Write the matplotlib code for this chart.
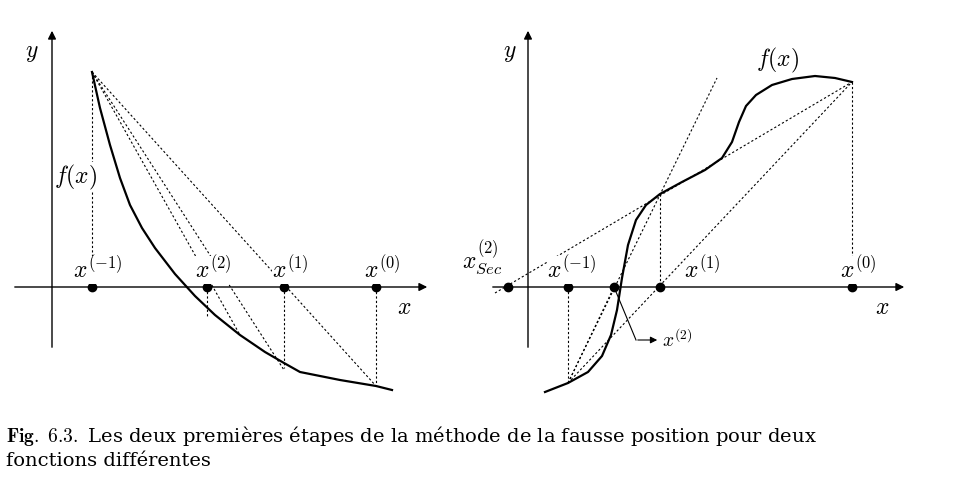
import matplotlib.pyplot as plt

plt.rcParams['mathtext.fontset'] = 'cm'

# pixel-like coordinates (y grows downward)
left_curve_x = [92, 100, 110, 120, 130, 142, 155, 175, 195, 215, 240, 265, 284, 300, 340, 376, 392]
left_curve_y = [72, 108, 145, 178, 205, 228, 248, 274, 296, 315, 335, 352, 363, 372, 380, 386, 390]
left_pts = [92, 207, 284, 376]
left_labels = [r"$x^{(-1)}$", r"$x^{(2)}$", r"$x^{(1)}$", r"$x^{(0)}$"]

right_curve_x = [545, 568, 588, 602, 611, 617, 622, 628, 636, 646, 660, 682, 705, 722, 732, 739, 746, 756, 772, 792, 815, 835, 852]
right_curve_y = [392, 383, 372, 356, 335, 310, 278, 245, 220, 205, 194, 182, 170, 158, 142, 122, 106, 95, 85, 79, 76, 78, 82]
right_pts = [508, 568, 614, 660, 852]

fig = plt.figure(figsize=(9.66, 4.84), dpi=100)
ax = fig.add_axes([0, 0, 1, 1])
ax.set_xlim(0, 966)
ax.set_ylim(484, 0)
ax.axis("off")

ar = dict(arrowstyle="-|>", color="black", lw=1, mutation_scale=12)
# axes
ax.annotate("", xy=(430, 287), xytext=(12, 287), arrowprops=ar)
ax.annotate("", xy=(52, 28), xytext=(52, 350), arrowprops=ar)
ax.annotate("", xy=(907, 287), xytext=(490, 287), arrowprops=ar)
ax.annotate("", xy=(528, 28), xytext=(528, 350), arrowprops=ar)
fs = 17
ax.text(32, 52, "$y$", fontsize=fs, ha="center", va="center")
ax.text(404, 307, "$x$", fontsize=fs, ha="center", va="center")
ax.text(510, 52, "$y$", fontsize=fs, ha="center", va="center")
ax.text(882, 307, "$x$", fontsize=fs, ha="center", va="center")

# left panel
ax.plot(left_curve_x, left_curve_y, color="black", lw=1.6)
dk = dict(color="black", lw=0.8, ls=(0, (2, 2)))
ax.plot([92, 376], [72, 386], **dk)
ax.plot([92, 284], [72, 370], **dk)
ax.plot([92, 240], [72, 335], **dk)
ax.plot([92, 92], [72, 287], **dk)
ax.plot([207, 207], [287, 318], **dk)
ax.plot([284, 284], [287, 368], **dk)
ax.plot([376, 376], [287, 386], **dk)
ax.plot(left_pts, [287] * len(left_pts), "o", color="black", ms=6)
ax.text(76, 177, "$f(x)$", fontsize=fs, ha="center", va="center",
        bbox=dict(fc="white", ec="none", pad=0))
for x, lab in zip(left_pts, left_labels):
    ax.text(x + 6, 270, lab, fontsize=fs, ha="center", va="center",
            bbox=dict(fc="white", ec="none", pad=0))

# right panel
ax.plot(right_curve_x, right_curve_y, color="black", lw=1.6)
ax.plot([568, 852], [383, 82], **dk)
ax.plot([568, 717], [383, 78], **dk)
ax.plot([495, 852], [293, 82], **dk)
ax.plot([568, 614], [383, 287], **dk)
ax.plot([568, 568], [287, 383], **dk)
ax.plot([660, 660], [194, 287], **dk)
ax.plot([852, 852], [82, 287], **dk)
ax.plot(right_pts, [287] * len(right_pts), "o", color="black", ms=6)
ax.text(778, 60, "$f(x)$", fontsize=fs, ha="center", va="center")
ax.text(482, 258, r"$x^{(2)}_{Sec}$", fontsize=fs, ha="center", va="center",
        bbox=dict(fc="white", ec="none", pad=0))
ax.text(572, 270, r"$x^{(-1)}$", fontsize=fs, ha="center", va="center",
        bbox=dict(fc="white", ec="none", pad=0))
ax.text(702, 270, r"$x^{(1)}$", fontsize=fs, ha="center", va="center")
ax.text(858, 270, r"$x^{(0)}$", fontsize=fs, ha="center", va="center",
        bbox=dict(fc="white", ec="none", pad=0))
ax.plot([614, 636], [287, 340], color="black", lw=0.8)
ax.annotate("", xy=(660, 340), xytext=(635, 340),
            arrowprops=dict(arrowstyle="-|>", color="black", lw=0.8, mutation_scale=10))
ax.text(662, 340, r"$x^{(2)}$", fontsize=14, ha="left", va="center")

# caption
ax.text(6, 436, r"$\mathbf{Fig.\ 6.3.}$ Les deux premières étapes de la méthode de la fausse position pour deux",
        fontsize=14, family="DejaVu Serif", va="center")
ax.text(6, 461, "fonctions différentes", fontsize=14, family="DejaVu Serif", va="center")

fig.savefig("out.png")
